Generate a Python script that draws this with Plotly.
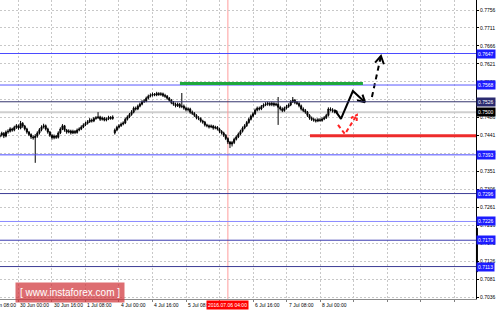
import plotly.graph_objects as go

# ---------------- data (hourly bars, index 0 = 30 Jun 00:00) ----------------
bar_start = -9
first_open = 0.7438
gap_open = {46: 0.7448}  # Monday open after weekend gap

closes = [
    0.7443, 0.7447, 0.7440, 0.7450, 0.7452, 0.7458, 0.7455, 0.7462, 0.7466, 0.7460,
    0.7472, 0.7465, 0.7458, 0.7450, 0.7444, 0.7438, 0.7436, 0.7440, 0.7448, 0.7456,
    0.7463, 0.7466, 0.7458, 0.7450, 0.7442, 0.7436, 0.7440, 0.7437, 0.7448, 0.7458,
    0.7466, 0.7455, 0.7450, 0.7453, 0.7448, 0.7452, 0.7449, 0.7455, 0.7458, 0.7463,
    0.7468, 0.7472, 0.7476, 0.7480, 0.7478, 0.7484, 0.7486, 0.7488, 0.7482, 0.7485,
    0.7480, 0.7483, 0.7487, 0.7484, 0.7488, 0.7455, 0.7462, 0.7466, 0.7470, 0.7473,
    0.7482, 0.7488, 0.7494, 0.7500, 0.7510, 0.7508, 0.7515, 0.7520, 0.7526, 0.7528,
    0.7535, 0.7540, 0.7542, 0.7545, 0.7543, 0.7547, 0.7544, 0.7546, 0.7542, 0.7540,
    0.7535, 0.7530, 0.7524, 0.7520, 0.7516, 0.7520, 0.7514, 0.7515, 0.7510, 0.7506,
    0.7508, 0.7500, 0.7497, 0.7492, 0.7486, 0.7484, 0.7478, 0.7475, 0.7468, 0.7466,
    0.7463, 0.7465, 0.7460, 0.7462, 0.7458, 0.7452, 0.7448, 0.7442, 0.7434, 0.7425,
    0.7420, 0.7424, 0.7432, 0.7438, 0.7445, 0.7452, 0.7460, 0.7466, 0.7474, 0.7482,
    0.7490, 0.7496, 0.7505, 0.7510, 0.7508, 0.7514, 0.7518, 0.7520, 0.7522, 0.7519,
    0.7522, 0.7518, 0.7520, 0.7512, 0.7508, 0.7504, 0.7510, 0.7514, 0.7518, 0.7526,
    0.7530, 0.7524, 0.7522, 0.7516, 0.7508, 0.7504, 0.7500, 0.7492, 0.7485, 0.7482,
    0.7480, 0.7478, 0.7481, 0.7479, 0.7483, 0.7486, 0.7492, 0.7508, 0.7506, 0.7503,
    0.7501, 0.7500,
]
highs = [
    0.7448, 0.7451, 0.7450, 0.7454, 0.7457, 0.7462, 0.7461, 0.7466, 0.7470, 0.7469,
    0.7478, 0.7475, 0.7468, 0.7461, 0.7453, 0.7447, 0.7442, 0.7445, 0.7452, 0.7460,
    0.7467, 0.7471, 0.7469, 0.7461, 0.7453, 0.7445, 0.7444, 0.7443, 0.7452, 0.7462,
    0.7470, 0.7468, 0.7458, 0.7457, 0.7456, 0.7456, 0.7455, 0.7459, 0.7462, 0.7467,
    0.7472, 0.7476, 0.7480, 0.7485, 0.7484, 0.7488, 0.7490, 0.7500, 0.7491, 0.7489,
    0.7488, 0.7487, 0.7491, 0.7490, 0.7492, 0.7459, 0.7466, 0.7470, 0.7474, 0.7477,
    0.7486, 0.7492, 0.7498, 0.7505, 0.7514, 0.7514, 0.7519, 0.7524, 0.7530, 0.7533,
    0.7539, 0.7544, 0.7547, 0.7549, 0.7548, 0.7551, 0.7550, 0.7550, 0.7549, 0.7546,
    0.7543, 0.7538, 0.7533, 0.7528, 0.7524, 0.7524, 0.7523, 0.7548, 0.7519, 0.7514,
    0.7512, 0.7511, 0.7504, 0.7500, 0.7495, 0.7490, 0.7487, 0.7481, 0.7478, 0.7471,
    0.7469, 0.7469, 0.7468, 0.7466, 0.7465, 0.7461, 0.7455, 0.7451, 0.7445, 0.7437,
    0.7428, 0.7428, 0.7436, 0.7442, 0.7449, 0.7456, 0.7464, 0.7470, 0.7478, 0.7486,
    0.7494, 0.7500, 0.7509, 0.7514, 0.7514, 0.7518, 0.7522, 0.7525, 0.7526, 0.7525,
    0.7526, 0.7525, 0.7524, 0.7538, 0.7516, 0.7512, 0.7514, 0.7518, 0.7522, 0.7530,
    0.7538, 0.7533, 0.7528, 0.7525, 0.7519, 0.7512, 0.7508, 0.7503, 0.7495, 0.7489,
    0.7486, 0.7484, 0.7485, 0.7485, 0.7487, 0.7490, 0.7496, 0.7512, 0.7512, 0.7510,
    0.7507, 0.7505,
]
lows = [
    0.7434, 0.7439, 0.7435, 0.7437, 0.7446, 0.7449, 0.7451, 0.7452, 0.7458, 0.7456,
    0.7457, 0.7461, 0.7454, 0.7446, 0.7440, 0.7433, 0.7431, 0.7373, 0.7436, 0.7444,
    0.7452, 0.7459, 0.7454, 0.7446, 0.7438, 0.7431, 0.7432, 0.7433, 0.7434, 0.7445,
    0.7455, 0.7451, 0.7446, 0.7447, 0.7444, 0.7445, 0.7445, 0.7446, 0.7452, 0.7455,
    0.7460, 0.7465, 0.7469, 0.7473, 0.7474, 0.7475, 0.7481, 0.7483, 0.7478, 0.7479,
    0.7477, 0.7477, 0.7480, 0.7481, 0.7481, 0.7444, 0.7452, 0.7459, 0.7463, 0.7467,
    0.7470, 0.7479, 0.7485, 0.7491, 0.7497, 0.7504, 0.7505, 0.7512, 0.7517, 0.7523,
    0.7525, 0.7532, 0.7537, 0.7539, 0.7540, 0.7540, 0.7541, 0.7541, 0.7538, 0.7536,
    0.7531, 0.7526, 0.7520, 0.7516, 0.7512, 0.7513, 0.7510, 0.7510, 0.7506, 0.7502,
    0.7502, 0.7496, 0.7493, 0.7488, 0.7482, 0.7480, 0.7474, 0.7471, 0.7464, 0.7462,
    0.7459, 0.7460, 0.7456, 0.7457, 0.7454, 0.7448, 0.7444, 0.7438, 0.7430, 0.7420,
    0.7410, 0.7414, 0.7420, 0.7429, 0.7435, 0.7442, 0.7449, 0.7457, 0.7463, 0.7471,
    0.7479, 0.7487, 0.7493, 0.7502, 0.7504, 0.7505, 0.7511, 0.7515, 0.7516, 0.7515,
    0.7515, 0.7514, 0.7515, 0.7468, 0.7504, 0.7500, 0.7501, 0.7507, 0.7511, 0.7515,
    0.7523, 0.7520, 0.7518, 0.7512, 0.7504, 0.7500, 0.7496, 0.7488, 0.7481, 0.7478,
    0.7476, 0.7474, 0.7475, 0.7476, 0.7476, 0.7480, 0.7483, 0.7489, 0.7502, 0.7499,
    0.7497, 0.7496,
]

price_ticks = [0.7036, 0.7081, 0.7126, 0.7171, 0.7216, 0.7261, 0.7306, 0.7351, 0.7396,
               0.7441, 0.7486, 0.7531, 0.7576, 0.7621, 0.7666, 0.7711, 0.7756]
level_prices = [0.7647, 0.7568, 0.7526, 0.7393, 0.7296, 0.7226, 0.7179, 0.7113]
level_colors = ["#4b4bff", "#5a5aff", "#34346e", "#4b4bff", "#3c3c96", "#8a8aff", "#3c3cb0", "#3c3c96"]
level_boxes = ["#1c1cff", "#1c1cff", "#2a2a70", "#1c1cff", "#1c1cff", "#1c1cff", "#1c1cff", "#1c1cff"]
current_price = 0.7500

# "6 Jul 00:00" (bar 96) is hidden under the cursor date box in the reference
time_tick_bars = [-16, 0, 16, 32, 48, 64, 80, 112, 128, 144]
time_tick_labels = ["29 Jun 08:00", "30 Jun 00:00", "30 Jun 16:00", "1 Jul 08:00", "4 Jul 00:00",
                    "4 Jul 16:00", "5 Jul 08:00", "6 Jul 16:00", "7 Jul 08:00", "8 Jul 00:00"]
grid_bars = [0, 16, 32, 48, 64, 80, 96, 112, 128, 144, 160, 176, 192, 208]
cursor_bar = 100
cursor_label = "2016.07.06 04:00"

green_level = 0.7572
green_span = [77.1, 164.5]
red_level = 0.7441
red_span = [139.2, 218.5]

# hand-drawn forecast arrows (bar index, price)
black_path_x = [151.1, 154.0, 159.7, 165.5]
black_path_y = [0.7505, 0.7483, 0.7553, 0.7525]
black_head_x = [164.3, 165.5, 161.7]
black_head_y = [0.7544, 0.7525, 0.7530]
dash_path_x = [168.8, 173.1]
dash_path_y = [0.7538, 0.7641]
dash_head_x = [170.3, 173.1, 174.5]
dash_head_y = [0.7624, 0.7641, 0.7620]
red_path_x = [152.6, 155.9, 161.6]
red_path_y = [0.7468, 0.7445, 0.7493]
red_head_x = [158.7, 161.6, 161.5]
red_head_y = [0.7485, 0.7493, 0.7475]

x_range = [-8.83, 218.5]
y_range = [0.70317, 0.77811]

# ---------------- figure ----------------
bars = list(range(bar_start, bar_start + len(closes)))
opens = [first_open] + closes[:-1]
for b, v in gap_open.items():
    opens[b - bar_start] = v

FONT = "Liberation Sans"
fig = go.Figure()
fig.add_trace(go.Candlestick(
    x=bars, open=opens, high=highs, low=lows, close=closes,
    increasing=dict(line=dict(color="black", width=1), fillcolor="black"),
    decreasing=dict(line=dict(color="black", width=1), fillcolor="black"),
    whiskerwidth=0, hoverinfo="skip"))

fig.add_trace(go.Scatter(x=black_path_x, y=black_path_y, mode="lines",
                         line=dict(color="black", width=2), hoverinfo="skip"))
fig.add_trace(go.Scatter(x=black_head_x, y=black_head_y, mode="lines",
                         line=dict(color="black", width=2), hoverinfo="skip"))
fig.add_trace(go.Scatter(x=dash_path_x, y=dash_path_y, mode="lines",
                         line=dict(color="black", width=2, dash="5px,4px"), hoverinfo="skip"))
fig.add_trace(go.Scatter(x=dash_head_x, y=dash_head_y, mode="lines",
                         line=dict(color="black", width=2), hoverinfo="skip"))
fig.add_trace(go.Scatter(x=red_path_x, y=red_path_y, mode="lines",
                         line=dict(color="#ff2222", width=2, dash="4px,3px"), hoverinfo="skip"))
fig.add_trace(go.Scatter(x=red_head_x, y=red_head_y, mode="lines",
                         line=dict(color="#ff2222", width=2, dash="3px,2px"), hoverinfo="skip"))

shapes = []
shapes.append(dict(type="line", xref="paper", x0=0, x1=1, yref="y", y0=current_price, y1=current_price,
                   line=dict(color="#cfcfcf", width=2), layer="between"))
shapes.append(dict(type="line", xref="x", x0=cursor_bar, x1=cursor_bar, yref="paper", y0=0, y1=1,
                   line=dict(color="#ff9c9c", width=1), layer="between"))
for p, c in zip(level_prices, level_colors):
    shapes.append(dict(type="line", xref="paper", x0=0, x1=1, yref="y", y0=p, y1=p,
                       line=dict(color=c, width=1)))
shapes.append(dict(type="line", xref="x", x0=green_span[0], x1=green_span[1], yref="y",
                   y0=green_level, y1=green_level, line=dict(color="#1fa83c", width=3)))
shapes.append(dict(type="line", xref="x", x0=red_span[0], x1=red_span[1], yref="y",
                   y0=red_level, y1=red_level, line=dict(color="#ee2b2b", width=3)))
shapes.append(dict(type="line", xref="paper", x0=1.002, x1=1.002, yref="y", y0=0.7099, y1=0.7210,
                   line=dict(color="black", width=2)))

annotations = []
span = x_range[1] - x_range[0]
for k, lab in zip(time_tick_bars, time_tick_labels):
    # paper coordinates so that a label starting left of the plot is still drawn (clipped by page edge)
    annotations.append(dict(x=(k - x_range[0]) / span, xref="paper", y=0, yref="paper",
                            yanchor="top", xanchor="left",
                            text=lab, showarrow=False, yshift=-1,
                            font=dict(size=5, color="black", family=FONT)))
annotations.append(dict(x=cursor_bar, xref="x", y=0, yref="paper", yanchor="top", xanchor="center",
                        text=cursor_label, showarrow=False, yshift=-1, bgcolor="#ff0000",
                        borderpad=1, font=dict(size=5, color="white", family=FONT)))
for p, bc in zip(level_prices, level_boxes):
    annotations.append(dict(x=1, xref="paper", y=p, yref="y", xanchor="left", yanchor="middle",
                            text=f"{p:.4f}", showarrow=False, bgcolor=bc, borderpad=1,
                            font=dict(size=5, color="white", family=FONT)))
annotations.append(dict(x=1, xref="paper", y=current_price, yref="y", xanchor="left", yanchor="middle",
                        text=f"{current_price:.4f}", showarrow=False, bgcolor="black", borderpad=1,
                        font=dict(size=5, color="white", family=FONT)))
annotations.append(dict(x=70 / 476, xref="paper", y=7 / 299, yref="paper", xanchor="center",
                        yanchor="middle", text="[ www.instaforex.com ]", showarrow=False,
                        bgcolor="rgba(208,52,58,0.72)", borderpad=4,
                        font=dict(size=10, color="white", family=FONT)))

fig.update_layout(
    width=500, height=311,
    margin=dict(l=0, r=24, t=0, b=12),
    paper_bgcolor="white", plot_bgcolor="white",
    showlegend=False,
    shapes=shapes, annotations=annotations,
    xaxis=dict(range=x_range, tickmode="array", tickvals=grid_bars, showticklabels=False,
               ticks="outside", ticklen=2, tickcolor="#808080",
               showgrid=True, gridcolor="#c8c8c8", gridwidth=1, griddash="2px,2px",
               zeroline=False, showline=True, linecolor="#8c8c8c", linewidth=1,
               rangeslider=dict(visible=False), fixedrange=True),
    yaxis=dict(range=y_range, side="right", tickmode="array", tickvals=price_ticks,
               ticktext=[f"{v:.4f}" for v in price_ticks],
               tickfont=dict(size=5, color="black", family=FONT),
               ticks="outside", ticklen=2, tickcolor="black",
               showgrid=True, gridcolor="#c8c8c8", gridwidth=1, griddash="2px,2px",
               zeroline=False, showline=True, linecolor="black", linewidth=1, fixedrange=True),
)

fig.write_html("out.html")
